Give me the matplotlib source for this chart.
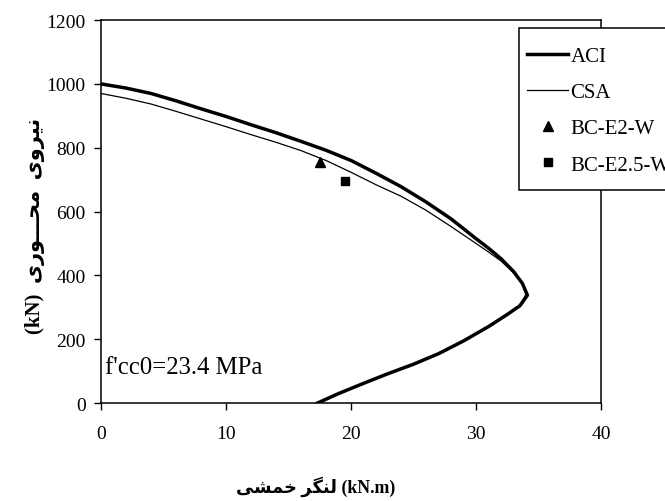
import matplotlib.pyplot as plt
from matplotlib.lines import Line2D
from matplotlib.patches import Rectangle

# interaction curves (moment kN.m, axial force kN)
aci_m = [0, 2, 4, 6, 8, 10, 12, 14, 16, 18, 20, 22, 24, 26, 28, 30, 31, 32, 33, 33.7, 34.1,
         33.5, 32.5, 31, 29, 27, 25, 23, 21, 19, 17.3]
aci_p = [1000, 987, 970, 947, 922, 898, 872, 847, 820, 792, 760, 720, 678, 630, 577, 515, 485, 452, 412, 375, 338,
         305, 278, 240, 195, 155, 122, 93, 62, 30, 0]

csa_m = [0, 2, 4, 6, 8, 10, 12, 14, 16, 18, 20, 22, 24, 26, 28, 30, 31, 32, 33, 33.7, 34.0,
         33.5, 32.5, 31, 29, 27, 25, 23, 21, 19, 17.3]
csa_p = [970, 955, 937, 914, 890, 866, 841, 817, 791, 760, 723, 684, 648, 604, 553, 500, 473, 445, 408, 375, 342,
         305, 278, 240, 195, 155, 122, 93, 62, 30, 0]

# test specimens
e2_m, e2_p = [17.5], [756]
e25_m, e25_p = [19.5], [695]

xticks = [0, 10, 20, 30, 40]
yticks = [0, 200, 400, 600, 800, 1000, 1200]

SERIF = ['Liberation Serif', 'DejaVu Sans']

# persian labels in visual order with presentation forms (matplotlib does no shaping)
ylab_fa = ('(kN)  ' + '\uFEEF\uFEAD\uFEEE\u0640\u0640\u0640\uFEA4\uFEE3'
           + '  ' + '\uFEEF\uFEED\uFEAE\uFEF4\uFEE7')
xlab_fa = '\uFEF0\uFEB8\uFEE4\uFEA7' + ' ' + '\uFEAE\uFB95\uFEE8\uFEDF' + ' (kN.m)'

plt.rcParams['font.family'] = SERIF

fig = plt.figure(figsize=(6.65, 5.02), dpi=100)
ax = fig.add_axes([0.152, 0.195, 0.752, 0.763])

ax.plot(aci_m, aci_p, color='black', lw=2.5, solid_joinstyle='round')
ax.plot(csa_m, csa_p, color='black', lw=0.9)
ax.plot(e2_m, e2_p, ls='none', marker='^', color='black', ms=7)
ax.plot(e25_m, e25_p, ls='none', marker='s', color='black', ms=5.5)

ax.set_xlim(0, 40)
ax.set_ylim(0, 1200)
ax.set_xticks(xticks)
ax.set_yticks(yticks)
ax.tick_params(direction='out', length=5, width=1, labelsize=14, colors='black')
ax.tick_params(axis='x', pad=11)
ax.tick_params(axis='y', pad=6)
for s in ax.spines.values():
    s.set_linewidth(1.1)

ax.text(0.3, 113, "f'cc0=23.4 MPa", fontsize=17.8, va='center', ha='left')

fig.text(0.053, 0.55, ylab_fa, rotation=90, ha='center', va='center',
         fontsize=15, fontweight='bold', family=SERIF)
fig.text(0.475, 0.03, xlab_fa, ha='center', va='center',
         fontsize=12.8, fontweight='bold', family=SERIF)

# legend box runs off the right edge of the figure, as in the original
box = Rectangle((519 / 665, 1 - 191 / 502), 200 / 665, 162 / 502, transform=fig.transFigure,
                facecolor='white', edgecolor='black', lw=1.1, zorder=4)
fig.add_artist(box)

handles = [
    Line2D([], [], color='black', lw=2.5),
    Line2D([], [], color='black', lw=0.9),
    Line2D([], [], ls='none', marker='^', color='black', ms=7),
    Line2D([], [], ls='none', marker='s', color='black', ms=5.5),
]
labels = ['ACI', 'CSA', 'BC-E2-W', 'BC-E2.5-W']
leg = fig.legend(handles, labels, loc='upper left', bbox_to_anchor=(517 / 665, 1 - 37 / 502),
                 fontsize=15, frameon=False, handlelength=1.97, handletextpad=0.1,
                 labelspacing=0.8, borderpad=0.5, borderaxespad=0)
leg.set_zorder(5)

fig.savefig('out.png', dpi=100)
